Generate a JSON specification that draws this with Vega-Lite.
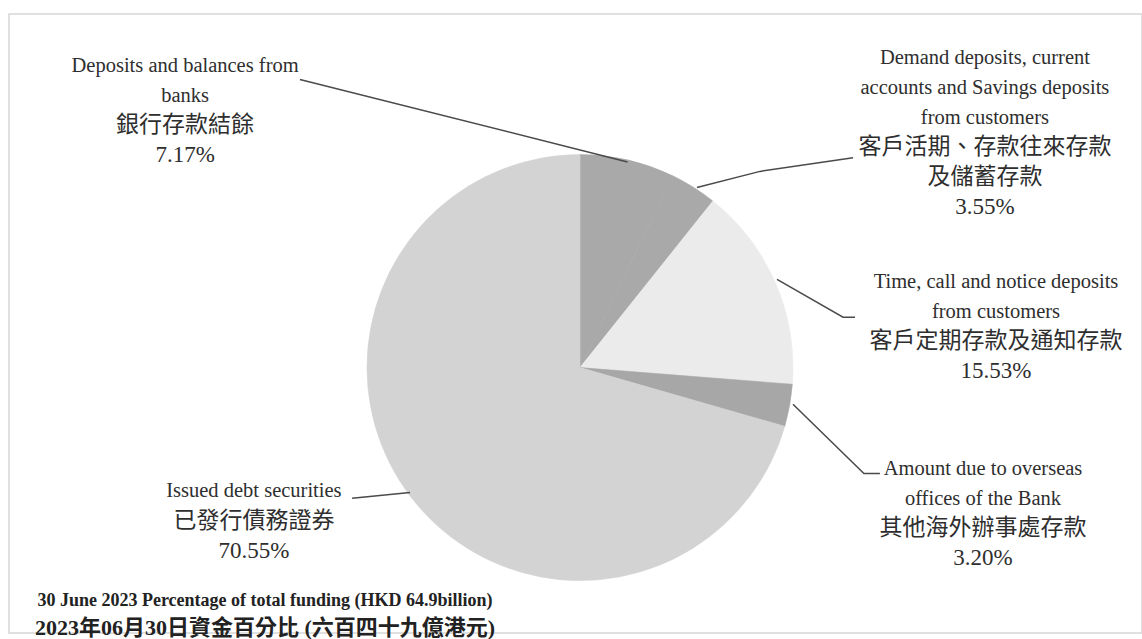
{
  "$schema": "https://vega.github.io/schema/vega-lite/v6.json",
  "width": 1142,
  "height": 639,
  "autosize": {"type": "fit", "contains": "padding"},
  "padding": {"left": 9, "top": 14, "right": 0, "bottom": 0},
  "background": "white",
  "config": {"view": {"stroke": "#d6d6d6", "strokeWidth": 1.5}},
  "datasets": {
    "slices": [
      {"key": "banks", "share": 7.17, "order": 1},
      {"key": "demand", "share": 3.55, "order": 2},
      {"key": "time", "share": 15.53, "order": 3},
      {"key": "overseas", "share": 3.20, "order": 4},
      {"key": "debt", "share": 70.55, "order": 5}
    ],
    "labels": [
      {"key": "banks", "en": ["Deposits and balances from", "banks"], "zh": ["銀行存款結餘", "7.17%"], "lx": -185.4, "ly": 122.1},
      {"key": "demand", "en": ["Demand deposits, current", "accounts and Savings deposits", "from customers"], "zh": ["客戶活期、存款往來存款", "及儲蓄存款", "3.55%"], "lx": 190.1, "ly": 111.7},
      {"key": "time", "en": ["Time, call and notice deposits", "from customers"], "zh": ["客戶定期存款及通知存款", "15.53%"], "lx": 195.3, "ly": 19.7},
      {"key": "overseas", "en": ["Amount due to overseas", "offices of the Bank"], "zh": ["其他海外辦事處存款", "3.20%"], "lx": 189.2, "ly": -69.0},
      {"key": "debt", "en": ["Issued debt securities"], "zh": ["已發行債務證券", "70.55%"], "lx": -153.1, "ly": -65.7}
    ],
    "leaders": [
      {"key": "banks", "seq": 1, "lx": -131.5, "ly": 136.6},
      {"key": "banks", "seq": 2, "lx": 22.3, "ly": 97.5},
      {"key": "demand", "seq": 1, "lx": 54.9, "ly": 85.4},
      {"key": "demand", "seq": 2, "lx": 84.5, "ly": 93.0},
      {"key": "demand", "seq": 3, "lx": 128.2, "ly": 99.5},
      {"key": "time", "seq": 1, "lx": 92.5, "ly": 41.8},
      {"key": "time", "seq": 2, "lx": 123.5, "ly": 23.9},
      {"key": "time", "seq": 3, "lx": 129.1, "ly": 23.9},
      {"key": "overseas", "seq": 1, "lx": 100.0, "ly": -17.4},
      {"key": "overseas", "seq": 2, "lx": 133.3, "ly": -50.2},
      {"key": "overseas", "seq": 3, "lx": 140.8, "ly": -50.2},
      {"key": "debt", "seq": 1, "lx": -107.0, "ly": -62.0},
      {"key": "debt", "seq": 2, "lx": -79.8, "ly": -59.2}
    ],
    "notes": [
      {"line": 1, "text": "30 June 2023 Percentage of total funding (HKD 64.9billion)", "lx": -147.9, "ly": -110.8},
      {"line": 2, "text": "2023年06月30日資金百分比 (六百四十九億港元)", "lx": -147.9, "ly": -123.3}
    ]
  },
  "layer": [
    {
      "data": {"name": "slices"},
      "mark": {"type": "arc", "outerRadius": 213, "strokeWidth": 0.6},
      "encoding": {
        "x": {"datum": 0, "type": "quantitative", "scale": {"domain": [-268.08, 263.85], "nice": false, "zero": false}, "axis": null},
        "y": {"datum": 0, "type": "quantitative", "scale": {"domain": [-125.82, 167.61], "nice": false, "zero": false}, "axis": null},
        "theta": {"field": "share", "type": "quantitative", "stack": true},
        "order": {"field": "order", "type": "quantitative"},
        "color": {
          "field": "key", "type": "nominal", "legend": null,
          "scale": {"domain": ["banks", "demand", "time", "overseas", "debt"], "range": ["#a9a9a9", "#a9a9a9", "#ebebeb", "#a7a7a7", "#d3d3d3"]}
        },
        "stroke": {
          "field": "key", "type": "nominal", "legend": null,
          "scale": {"domain": ["banks", "demand", "time", "overseas", "debt"], "range": ["#a9a9a9", "#a9a9a9", "#ebebeb", "#a7a7a7", "#d3d3d3"]}
        }
      }
    },
    {
      "data": {"name": "leaders"},
      "mark": {"type": "line", "color": "#4a4a4a", "strokeWidth": 1.5},
      "encoding": {
        "x": {"field": "lx", "type": "quantitative", "axis": null},
        "y": {"field": "ly", "type": "quantitative", "axis": null},
        "detail": {"field": "key"},
        "order": {"field": "seq", "type": "quantitative"}
      }
    },
    {
      "data": {"name": "labels"},
      "transform": [{"calculate": "datum.ly + length(datum.en) * 14.085", "as": "enTop"}],
      "mark": {"type": "text", "align": "center", "baseline": "line-top", "lineHeight": 30, "fontSize": 20.5, "font": "Liberation Serif", "color": "#2e2e2e"},
      "encoding": {
        "x": {"field": "lx", "type": "quantitative", "axis": null},
        "y": {"field": "enTop", "type": "quantitative", "axis": null},
        "text": {"field": "en"}
      }
    },
    {
      "data": {"name": "labels"},
      "mark": {"type": "text", "align": "center", "baseline": "line-top", "lineHeight": 30, "fontSize": 23, "font": "Liberation Serif, Noto Sans CJK TC", "color": "#2e2e2e"},
      "encoding": {
        "x": {"field": "lx", "type": "quantitative", "axis": null},
        "y": {"field": "ly", "type": "quantitative", "axis": null},
        "text": {"field": "zh"}
      }
    },
    {
      "data": {"name": "notes"},
      "transform": [{"filter": "datum.line == 1"}],
      "mark": {"type": "text", "align": "center", "baseline": "middle", "fontSize": 18, "fontWeight": "bold", "font": "Liberation Serif", "color": "#222222"},
      "encoding": {
        "x": {"field": "lx", "type": "quantitative", "axis": null},
        "y": {"field": "ly", "type": "quantitative", "axis": null},
        "text": {"field": "text"}
      }
    },
    {
      "data": {"name": "notes"},
      "transform": [{"filter": "datum.line == 2"}],
      "mark": {"type": "text", "align": "center", "baseline": "middle", "fontSize": 22, "fontWeight": "bold", "font": "Liberation Serif, Noto Sans CJK TC", "color": "#222222"},
      "encoding": {
        "x": {"field": "lx", "type": "quantitative", "axis": null},
        "y": {"field": "ly", "type": "quantitative", "axis": null},
        "text": {"field": "text"}
      }
    }
  ]
}
